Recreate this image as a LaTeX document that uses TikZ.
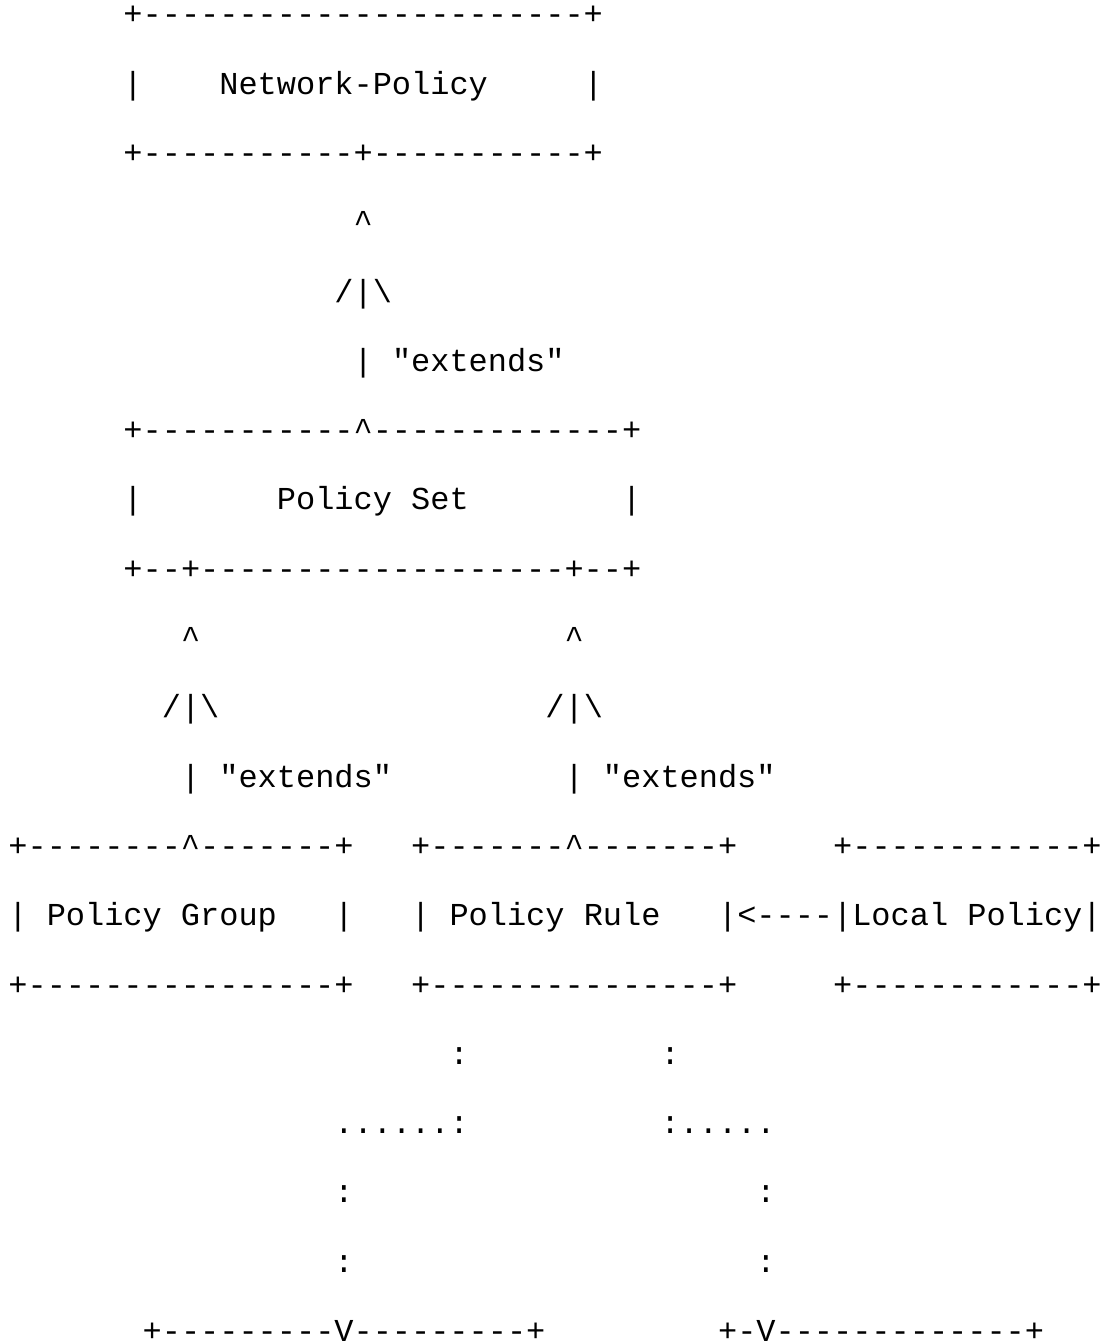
\documentclass[tikz,border=0pt]{standalone}
\usepackage{fontspec}
\newfontfamily\asciimono{Liberation Mono}
\newcommand\asciicaret{\textasciicircum}
\newcommand\asciibs{\textbackslash}
\tikzset{
  ascii/.style={anchor=base west, inner sep=0pt, outer sep=0pt,
    font=\asciimono\fontsize{15.98pt}{16pt}\selectfont},
}
\begin{document}
\begin{tikzpicture}[x=0.5pt,y=-0.5pt]
\useasboundingbox (0,0) rectangle (1103,1344);
\def\cw{19.18}
\def\lx{8.41}
\def\by{24.8}
\def\lp{69.3}
% rows 0-2 : Network-Policy box
\node[ascii] (r0)  at ({\lx+\cw*6},{\by+\lp*0}) {+-----------------------+};
\node[ascii] (r1a) at ({\lx+\cw*6},{\by+\lp*1}) {|};
\node[ascii] (np)  at ({\lx+\cw*11},{\by+\lp*1}) {Network-Policy};
\node[ascii] (r1b) at ({\lx+\cw*30},{\by+\lp*1}) {|};
\node[ascii] (r2)  at ({\lx+\cw*6},{\by+\lp*2}) {+-----------+-----------+};
% rows 3-5 : extends arrow
\node[ascii] (r3)  at ({\lx+\cw*18},{\by+\lp*3}) {\asciicaret};
\node[ascii] (r4)  at ({\lx+\cw*17},{\by+\lp*4}) {/|\asciibs};
\node[ascii] (r5)  at ({\lx+\cw*18},{\by+\lp*5}) {| "extends"};
% rows 6-8 : Policy Set box
\node[ascii] (r6)  at ({\lx+\cw*6},{\by+\lp*6}) {+-----------\asciicaret-------------+};
\node[ascii] (r7a) at ({\lx+\cw*6},{\by+\lp*7}) {|};
\node[ascii] (ps)  at ({\lx+\cw*14},{\by+\lp*7}) {Policy Set};
\node[ascii] (r7b) at ({\lx+\cw*32},{\by+\lp*7}) {|};
\node[ascii] (r8)  at ({\lx+\cw*6},{\by+\lp*8}) {+--+-------------------+--+};
% rows 9-11 : two extends arrows
\node[ascii] (r9a)  at ({\lx+\cw*9},{\by+\lp*9}) {\asciicaret};
\node[ascii] (r9b)  at ({\lx+\cw*29},{\by+\lp*9}) {\asciicaret};
\node[ascii] (r10a) at ({\lx+\cw*8},{\by+\lp*10}) {/|\asciibs};
\node[ascii] (r10b) at ({\lx+\cw*28},{\by+\lp*10}) {/|\asciibs};
\node[ascii] (r11a) at ({\lx+\cw*9},{\by+\lp*11}) {| "extends"};
\node[ascii] (r11b) at ({\lx+\cw*29},{\by+\lp*11}) {| "extends"};
% rows 12-14 : Policy Group, Policy Rule, Local Policy boxes
\node[ascii] (r12a) at ({\lx+\cw*0},{\by+\lp*12}) {+--------\asciicaret-------+};
\node[ascii] (r12b) at ({\lx+\cw*21},{\by+\lp*12}) {+-------\asciicaret-------+};
\node[ascii] (r12c) at ({\lx+\cw*43},{\by+\lp*12}) {+------------+};
\node[ascii] (pg)   at ({\lx+\cw*0},{\by+\lp*13}) {| Policy Group};
\node[ascii] (r13a) at ({\lx+\cw*17},{\by+\lp*13}) {|};
\node[ascii] (pr)   at ({\lx+\cw*21},{\by+\lp*13}) {| Policy Rule};
\node[ascii] (lp)   at ({\lx+\cw*37},{\by+\lp*13}) {|<----|Local Policy|};
\node[ascii] (r14a) at ({\lx+\cw*0},{\by+\lp*14}) {+----------------+};
\node[ascii] (r14b) at ({\lx+\cw*21},{\by+\lp*14}) {+---------------+};
\node[ascii] (r14c) at ({\lx+\cw*43},{\by+\lp*14}) {+------------+};
% rows 15-19 : dotted links
\node[ascii] (r15a) at ({\lx+\cw*23},{\by+\lp*15}) {:};
\node[ascii] (r15b) at ({\lx+\cw*34},{\by+\lp*15}) {:};
\node[ascii] (r16a) at ({\lx+\cw*17},{\by+\lp*16}) {......:};
\node[ascii] (r16b) at ({\lx+\cw*34},{\by+\lp*16}) {:.....};
\node[ascii] (r17a) at ({\lx+\cw*17},{\by+\lp*17}) {:};
\node[ascii] (r17b) at ({\lx+\cw*39},{\by+\lp*17}) {:};
\node[ascii] (r18a) at ({\lx+\cw*17},{\by+\lp*18}) {:};
\node[ascii] (r18b) at ({\lx+\cw*39},{\by+\lp*18}) {:};
\node[ascii] (r19a) at ({\lx+\cw*7},{\by+\lp*19}) {+---------V---------+};
\node[ascii] (r19b) at ({\lx+\cw*37},{\by+\lp*19}) {+-V-------------+};
\end{tikzpicture}
\end{document}
